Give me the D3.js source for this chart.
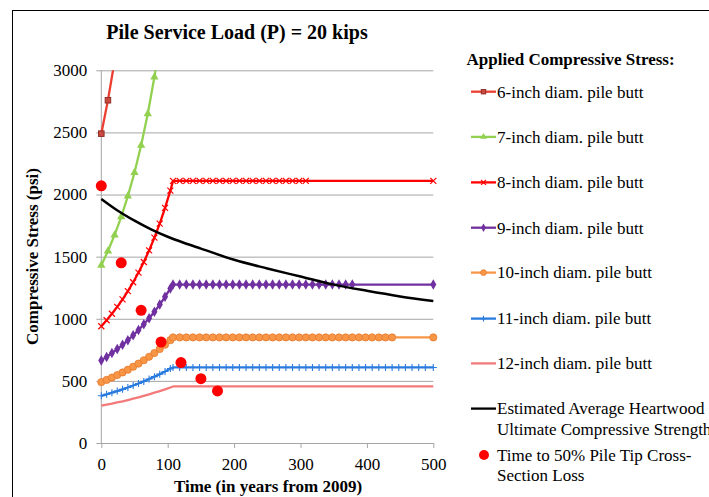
<!DOCTYPE html>
<html>
<head>
<meta charset="utf-8">
<script src="https://cdn.jsdelivr.net/npm/d3@7"></script>
<style>
  body { margin: 0; background: #fff; }
  svg { display: block; }
  text { font-family: "Liberation Serif", "Times New Roman", serif; fill: #000; }
</style>
</head>
<body>
<svg id="chart" width="709" height="497"></svg>
<script>
// ---- data -------------------------------------------------------------
const yTicks = [0, 500, 1000, 1500, 2000, 2500, 3000];
const xTicks = [0, 100, 200, 300, 400, 500];

// 6- and 7-inch butts rise past the top of the axis
const years6 = [0, 10, 20];
const stress6 = [2490, 2759, 3074];
const years7 = [0, 10, 20, 30, 40, 50, 60, 70, 80, 90];
const stress7 = [1430, 1545, 1674, 1821, 1987, 2177, 2396, 2650, 2946, 3295];

// 8- to 12-inch butts: rising part, then a constant level
const riseYears = [0, 8, 16, 24, 32, 40, 48, 56, 64, 72, 80, 88, 96, 104];
const rise8  = [940, 988, 1040, 1096, 1156, 1222, 1294, 1372, 1457, 1550, 1653, 1766, 1892, 2031];
const rise9  = [665, 693, 724, 756, 790, 827, 867, 909, 955, 1004, 1057, 1114, 1177, 1244];
const rise10 = [490, 508, 527, 547, 568, 590, 614, 639, 666, 694, 724, 757, 791, 828];
const rise11 = [380, 392, 405, 418, 432, 447, 463, 479, 496, 515, 534, 554, 576, 599];
const rise12 = [300, 309, 317, 327, 336, 346, 357, 368, 380, 392, 405, 418, 432, 447];

const level8 = 2110, level9 = 1275, level10 = 850, level11 = 608, level12 = 455;
const flatYears8 = [108, 118, 128, 138, 148, 158, 168, 178, 188, 198, 208, 218, 228, 238, 248, 258, 268, 278, 288, 298, 308, 500];
const flatYears9 = [108, 118, 128, 138, 148, 158, 168, 178, 188, 198, 208, 218, 228, 238, 248, 258, 268, 278, 288, 298, 308, 318, 328, 338, 348, 358, 368, 378, 500];
const flatYears10 = [108, 118, 128, 138, 148, 158, 168, 178, 188, 198, 208, 218, 228, 238, 248, 258, 268, 278, 288, 298, 308, 318, 328, 338, 348, 358, 368, 378, 388, 398, 408, 418, 428, 438, 500];
const flatYears11 = [108, 118, 128, 138, 148, 158, 168, 178, 188, 198, 208, 218, 228, 238, 248, 258, 268, 278, 288, 298, 308, 318, 328, 338, 348, 358, 368, 378, 388, 398, 408, 418, 428, 438, 448, 458, 468, 478, 488, 500];
const flatYears12 = [108, 500];

// heartwood strength curve
const strengthYears = [0, 25, 50, 75, 100, 125, 150, 200, 250, 300, 350, 400, 450, 500];
const strength = [1965, 1870, 1790, 1720, 1660, 1610, 1565, 1475, 1405, 1340, 1275, 1225, 1180, 1142];

// time to 50% tip cross-section loss
const lossYears = [0, 30, 60, 90, 120, 150, 175];
const lossStress = [2070, 1450, 1068, 813, 647, 518, 419];

const legendLabels = [
  ["6-inch diam. pile butt"],
  ["7-inch diam. pile butt"],
  ["8-inch diam. pile butt"],
  ["9-inch diam. pile butt"],
  ["10-inch diam. pile butt"],
  ["11-inch diam. pile butt"],
  ["12-inch diam. pile butt"],
  ["Estimated Average Heartwood", "Ultimate Compressive Strength"],
  ["Time to 50% Pile Tip Cross-", "Section Loss"]
];

// ---- setup ------------------------------------------------------------
const svg = d3.select("#chart");
const x = d3.scaleLinear().domain([0, 500]).range([101.3, 433.3]);
const y = d3.scaleLinear().domain([0, 3000]).range([443, 70.3]);
const gridColor = "#a6a6a6";

// outer chart frame
svg.append("rect")
  .attr("x", 12.5).attr("y", 10.5)
  .attr("width", 760).attr("height", 560)
  .attr("fill", "#fff").attr("stroke", "#000").attr("stroke-width", 1);

// title
svg.append("text")
  .attr("x", 237).attr("y", 38.5)
  .attr("text-anchor", "middle")
  .attr("font-size", 20).attr("font-weight", "bold")
  .text("Pile Service Load (P) = 20 kips");

// y axis with gridlines
const gy = svg.append("g")
  .attr("transform", `translate(${x(0)},0)`)
  .call(d3.axisLeft(y).tickValues(yTicks)
    .tickSize(-(x(500) - x(0))).tickPadding(14).tickFormat(d3.format("d")));
gy.select(".domain").remove();
gy.selectAll(".tick line").attr("x1", -5).attr("stroke", gridColor);
gy.selectAll(".tick text")
  .attr("font-family", "'Liberation Serif', serif").attr("font-size", 17).attr("fill", "#000");

// x axis
const gx = svg.append("g")
  .attr("transform", `translate(0,${y(0)})`)
  .call(d3.axisBottom(x).tickValues(xTicks).tickSize(5).tickSizeOuter(0).tickPadding(10));
gx.select(".domain").attr("stroke", gridColor);
gx.selectAll(".tick line").attr("stroke", gridColor);
gx.selectAll(".tick text")
  .attr("font-family", "'Liberation Serif', serif").attr("font-size", 17).attr("fill", "#000");

// vertical axis line
svg.append("line")
  .attr("x1", x(0)).attr("x2", x(0)).attr("y1", y(3000)).attr("y2", y(0))
  .attr("stroke", gridColor);

// axis titles
svg.append("text")
  .attr("x", 268).attr("y", 492)
  .attr("text-anchor", "middle")
  .attr("font-size", 17).attr("font-weight", "bold")
  .text("Time (in years from 2009)");
svg.append("text")
  .attr("transform", "translate(38,256.5) rotate(-90)")
  .attr("text-anchor", "middle")
  .attr("font-size", 17).attr("font-weight", "bold")
  .text("Compressive Stress (psi)");

// ---- series -----------------------------------------------------------
svg.append("clipPath").attr("id", "plotClip")
  .append("rect").attr("x", 0).attr("y", y(3000)).attr("width", 709).attr("height", 497);

function joinRise(rise, years, level) {
  return riseYears.map((t, i) => [t, rise[i]]).concat(years.map(t => [t, level]));
}

const series = [
  { pts: years6.map((t, i) => [t, stress6[i]]), color: "#ea3f31", marker: "square", markerYears: [0, 10] },
  { pts: years7.map((t, i) => [t, stress7[i]]), color: "#92d050", marker: "triangle" },
  { pts: joinRise(rise8, flatYears8, level8), color: "#ff0000", marker: "x" },
  { pts: joinRise(rise9, flatYears9, level9), color: "#7030a0", marker: "diamond" },
  { pts: joinRise(rise10, flatYears10, level10), color: "#f79646", marker: "circle" },
  { pts: joinRise(rise11, flatYears11, level11), color: "#2a7bde", marker: "plus" },
  { pts: joinRise(rise12, flatYears12, level12), color: "#f27a7a", marker: "none" }
];

function drawMarker(g, type, cx, cy, color, small) {
  const s = small ? 0.8 : 1;
  if (type === "square") {
    g.append("rect").attr("x", cx - 2.8 * s).attr("y", cy - 2.8 * s)
      .attr("width", 5.6 * s).attr("height", 5.6 * s)
      .attr("fill", "#c9493f").attr("stroke", "#8a2a24").attr("stroke-width", 0.9);
  } else if (type === "triangle") {
    g.append("path").attr("transform", `translate(${cx},${cy})`)
      .attr("d", d3.symbol(d3.symbolTriangle, 30 * s * s)())
      .attr("fill", color);
  } else if (type === "x") {
    const r = 3 * s;
    g.append("path")
      .attr("d", `M${cx - r},${cy - r}L${cx + r},${cy + r}M${cx - r},${cy + r}L${cx + r},${cy - r}`)
      .attr("stroke", color).attr("stroke-width", 1.2).attr("fill", "none");
  } else if (type === "diamond") {
    g.append("path").attr("transform", `translate(${cx},${cy})`)
      .attr("d", d3.symbol(d3.symbolDiamond, 32 * s * s)())
      .attr("fill", color);
  } else if (type === "circle") {
    g.append("circle").attr("cx", cx).attr("cy", cy).attr("r", 3.6 * s)
      .attr("fill", "#f79646").attr("stroke", "#e8782c").attr("stroke-width", 0.8);
  } else if (type === "plus") {
    const r = 3.5 * s;
    g.append("path")
      .attr("d", `M${cx},${cy - r}L${cx},${cy + r}M${cx - r},${cy}L${cx + r},${cy}`)
      .attr("stroke", color).attr("stroke-width", 1.1).attr("fill", "none");
  }
}

const plot = svg.append("g").attr("clip-path", "url(#plotClip)");
const line = d3.line().x(d => x(d[0])).y(d => y(d[1]));

series.forEach(s => {
  plot.append("path").datum(s.pts)
    .attr("d", line)
    .attr("fill", "none").attr("stroke", s.color)
    .attr("stroke-width", 2.3).attr("stroke-linejoin", "round");
  const mg = plot.append("g");
  s.pts.forEach(p => {
    if (s.markerYears && !s.markerYears.includes(p[0])) return;
    drawMarker(mg, s.marker, x(p[0]), y(p[1]), s.color, false);
  });
});

// heartwood strength
plot.append("path")
  .datum(strengthYears.map((t, i) => [t, strength[i]]))
  .attr("d", d3.line().x(d => x(d[0])).y(d => y(d[1])).curve(d3.curveMonotoneX))
  .attr("fill", "none").attr("stroke", "#000").attr("stroke-width", 2.5);

// 50% loss points
svg.append("g").selectAll("circle")
  .data(lossYears.map((t, i) => [t, lossStress[i]]))
  .join("circle")
  .attr("cx", d => x(d[0])).attr("cy", d => y(d[1])).attr("r", 5.5)
  .attr("fill", "#ff0000");

// ---- legend -----------------------------------------------------------
const legend = svg.append("g");
legend.append("text")
  .attr("x", 466.5).attr("y", 65)
  .attr("font-size", 17).attr("font-weight", "bold")
  .text("Applied Compressive Stress:");

const rowY = [91.7, 136.9, 182.4, 227.7, 272.6, 318.6, 363.4, 408.6, 455];
const legendStyle = [
  { color: "#ea3f31", marker: "square" },
  { color: "#92d050", marker: "triangle" },
  { color: "#ff0000", marker: "x" },
  { color: "#7030a0", marker: "diamond" },
  { color: "#f79646", marker: "circle" },
  { color: "#2a7bde", marker: "plus" },
  { color: "#f27a7a", marker: "none" },
  { color: "#000000", marker: "none" },
  { color: "#ff0000", marker: "dot" }
];

legendLabels.forEach((lines, i) => {
  const cy = rowY[i];
  const st = legendStyle[i];
  if (st.marker === "dot") {
    legend.append("circle").attr("cx", 484).attr("cy", cy).attr("r", 5).attr("fill", st.color);
  } else {
    legend.append("line").attr("x1", 471).attr("x2", 496).attr("y1", cy).attr("y2", cy)
      .attr("stroke", st.color).attr("stroke-width", 2.3);
    drawMarker(legend, st.marker, 483.5, cy, st.color, true);
  }
  const t = legend.append("text").attr("font-size", 17);
  lines.forEach((ln, j) => {
    t.append("tspan").attr("x", 497).attr("y", cy + 5.8 + j * 20.3).text(ln);
  });
});
</script>
</body>
</html>
